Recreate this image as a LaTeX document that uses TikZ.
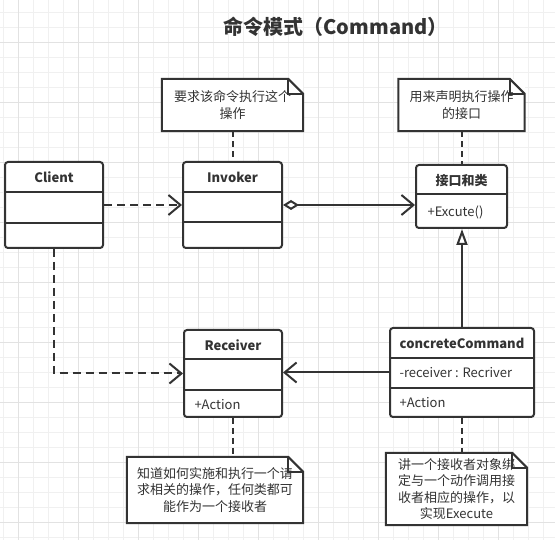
\documentclass[tikz,border=0pt]{standalone}
\usepackage{fontspec}
\setmainfont{Noto Sans CJK SC}
\usepackage{tikz}
\usetikzlibrary{arrows.meta}

\definecolor{linecol}{HTML}{333333}
\definecolor{gridthin}{HTML}{F0F0F0}
\definecolor{gridthick}{HTML}{E2E2E2}

\tikzset{
	umlbox/.style={draw=linecol, line width=2pt, rounded corners=3pt, fill=white, inner sep=0pt},
	umlname/.style={text=linecol, font=\bfseries\fontsize{13}{15}\selectfont},
	umlitem/.style={text=linecol, anchor=west, font=\fontsize{13}{15}\selectfont},
	divider/.style={draw=linecol, line width=2pt},
	notebox/.style={fill=white, text=linecol, inner sep=0pt, align=center, font=\fontsize{13}{16.5}\selectfont},
	noteline/.style={draw=linecol, line width=2pt, line join=miter},
	depend/.style={draw=linecol, line width=2pt, dash pattern=on 8pt off 5pt, -{Straight Barb[length=12pt,width=20pt]}},
	assoc/.style={draw=linecol, line width=2pt, -{Straight Barb[length=12pt,width=20pt]}},
	aggr/.style={draw=linecol, line width=2pt, {Diamond[open,length=16pt,width=10pt]}-{Straight Barb[length=12pt,width=20pt]}},
	inherit/.style={draw=linecol, line width=2pt, -{Triangle[open,length=16pt,width=11pt]}},
	notelink/.style={draw=linecol, line width=2pt, dash pattern=on 6pt off 4pt}
}

% outline with folded corner round a note node
\newcommand{\foldnote}[1]{%
	\draw[noteline] (#1.south west) -- (#1.north west) -- ([xshift=-15pt]#1.north east)
		-- ([yshift=-15pt]#1.north east) -- (#1.south east) -- cycle;
	\draw[noteline] ([xshift=-15pt]#1.north east) |- ([yshift=-15pt]#1.north east);}

\begin{document}
\begin{tikzpicture}[x=1pt, y=-1pt]
	\fill[white] (0,0) rectangle (555,540);
	\useasboundingbox (0,0) rectangle (555,540);
	
	% background grid
	\foreach \g in {0,...,36}
		\draw[gridthin, line width=1pt] ({3.3+15*\g},0) -- ({3.3+15*\g},540);
	\foreach \g in {0,...,35}
		\draw[gridthin, line width=1pt] (0,{12.3+15*\g}) -- (555,{12.3+15*\g});
	\foreach \g in {0,...,8}
		\draw[gridthick, line width=1pt] ({18.3+60*\g},0) -- ({18.3+60*\g},540);
	\foreach \g in {0,...,8}
		\draw[gridthick, line width=1pt] (0,{42.3+60*\g}) -- (555,{42.3+60*\g});
	
	\node[text=linecol, font=\bfseries\fontsize{20}{24}\selectfont] (title) at (335.5,27) {命令模式（Command）};
	
	% classes
	\node[umlbox, minimum width=98pt, minimum height=86pt] (client) at (54,205) {};
	\node[umlname] (clientname) at (54,177) {Client};
	\draw[divider] (client.west |- 0,192) -- (client.east |- 0,192);
	\draw[divider] (client.west |- 0,223) -- (client.east |- 0,223);
	
	\node[umlbox, minimum width=99pt, minimum height=86pt] (invoker) at (232.5,205) {};
	\node[umlname] (invokername) at (232.5,177) {Invoker};
	\draw[divider] (invoker.west |- 0,192) -- (invoker.east |- 0,192);
	\draw[divider] (invoker.west |- 0,222) -- (invoker.east |- 0,222);
	
	\node[umlbox, minimum width=91pt, minimum height=63pt] (iface) at (461.5,196.5) {};
	\node[umlname] (ifacename) at (461.5,181) {接口和类};
	\draw[divider] (iface.west |- 0,194) -- (iface.east |- 0,194);
	\node[umlitem] (ifaceop) at (424,212) {+Excute()};
	
	\node[umlbox, minimum width=98pt, minimum height=87pt] (recv) at (233,373.5) {};
	\node[umlname] (recvname) at (233,345) {Receiver};
	\draw[divider] (recv.west |- 0,359) -- (recv.east |- 0,359);
	\draw[divider] (recv.west |- 0,390) -- (recv.east |- 0,390);
	\node[umlitem] (recvop) at (191,405) {+Action};
	
	\node[umlbox, minimum width=144pt, minimum height=89pt] (cmd) at (462,372.5) {};
	\node[umlname] (cmdname) at (462,343) {concreteCommand};
	\draw[divider] (cmd.west |- 0,358) -- (cmd.east |- 0,358);
	\draw[divider] (cmd.west |- 0,388) -- (cmd.east |- 0,388);
	\node[umlitem] (cmdattr) at (396,373) {-receiver : Recriver};
	\node[umlitem] (cmdop) at (396,403) {+Action};
	
	% notes
	\node[notebox, minimum width=141pt, minimum height=52pt] (note1) at (232.5,105) {要求该命令执行这个\\操作};
	\foldnote{note1}
	\node[notebox, minimum width=126pt, minimum height=52pt] (note2) at (461.5,105) {用来声明执行操作\\的接口};
	\foldnote{note2}
	\node[notebox, minimum width=176pt, minimum height=66pt] (note3) at (215,490) {知道如何实施和执行一个请\\求相关的操作，任何类都可\\能作为一个接收者};
	\foldnote{note3}
	\node[notebox, minimum width=141pt, minimum height=72pt] (note4) at (456.5,489) {讲一个接收者对象绑\\定与一个动作调用接\\收者相应的操作，以\\实现Execute};
	\foldnote{note4}
	
	% relations
	\draw[depend] (client.east) -- (invoker.west);
	\draw[aggr] (invoker.east) -- (iface.west |- invoker.east);
	\draw[inherit] (cmd.north) -- (cmd.north |- iface.south);
	\draw[assoc] (cmd.west) -- (recv.east |- cmd.west);
	\draw[depend] (client.south) |- (recv.west);
	
	\draw[notelink] (note1.south) -- (note1.south |- invoker.north);
	\draw[notelink] (note2.south) -- (note2.south |- iface.north);
	\draw[notelink] (recv.south) -- (recv.south |- note3.north);
	\draw[notelink] (cmd.south) -- (cmd.south |- note4.north);
\end{tikzpicture}
\end{document}
